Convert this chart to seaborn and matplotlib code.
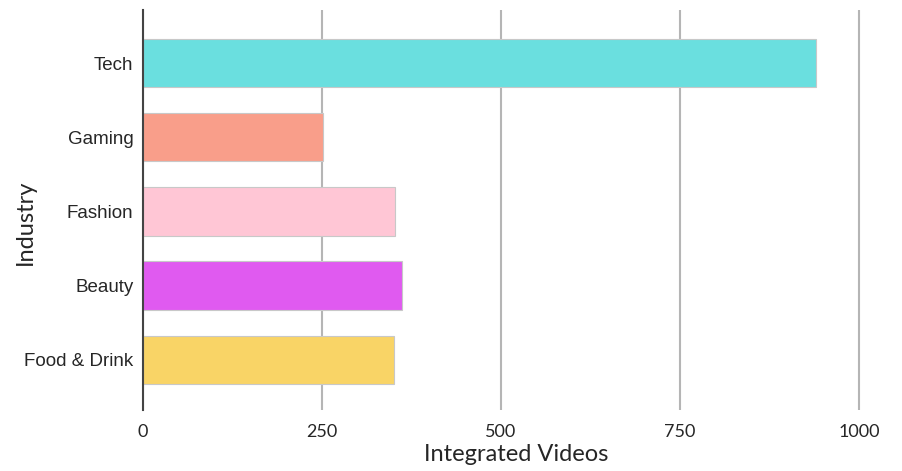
import matplotlib
matplotlib.use("Agg")
import matplotlib.pyplot as plt
import seaborn as sns
import pandas as pd

industries = ["Tech", "Gaming", "Fashion", "Beauty", "Food & Drink"]
videos = [940, 252, 352, 362, 350]
colors = ["#6ADFDF", "#F99E8A", "#FFC6D5", "#E05AF0", "#F9D466"]
xticks = [0, 250, 500, 750, 1000]

df = pd.DataFrame({"Industry": industries, "Integrated Videos": videos})

sns.set_theme(style="white")
plt.rcParams['font.family'] = ['Liberation Sans', 'DejaVu Sans']

fig = plt.figure(figsize=(9.03, 4.71), dpi=100)
ax = fig.add_axes([143/903, 1 - 410/471, (890-143)/903, 400/471])

sns.barplot(data=df, x="Integrated Videos", y="Industry", hue="Industry",
            palette=colors, order=industries, hue_order=industries,
            width=0.65, edgecolor="#c8c8c8", linewidth=0.8, legend=False,
            saturation=1, zorder=3, ax=ax)

ax.set_xlim(0, 1043)
ax.set_ylim(4.68, -0.72)
ax.set_xticks(xticks)
ax.set_xticklabels([str(t) for t in xticks], fontsize=13, family=['Lato', 'DejaVu Sans'])
ax.tick_params(axis='y', labelsize=13.5, length=0, pad=7)
ax.tick_params(axis='x', length=0, pad=10)
ax.grid(axis='x', color='#b5b5b5', linewidth=1.5, zorder=0)
ax.set_axisbelow(True)
for s in ["top", "right", "bottom"]:
    ax.spines[s].set_visible(False)
ax.spines["left"].set_color("#444444")
ax.spines["left"].set_linewidth(1.5)
ax.spines["left"].set_zorder(5)

ax.set_xlabel("Integrated Videos", fontsize=17, family=['Lato', 'DejaVu Sans'], labelpad=3)
ax.set_ylabel("Industry", fontsize=17, family=['Lato', 'DejaVu Sans'])
ax.yaxis.set_label_coords(-0.158, 0.47)
ax.yaxis.label.set_verticalalignment('center')

fig.savefig("out.png", dpi=100)
